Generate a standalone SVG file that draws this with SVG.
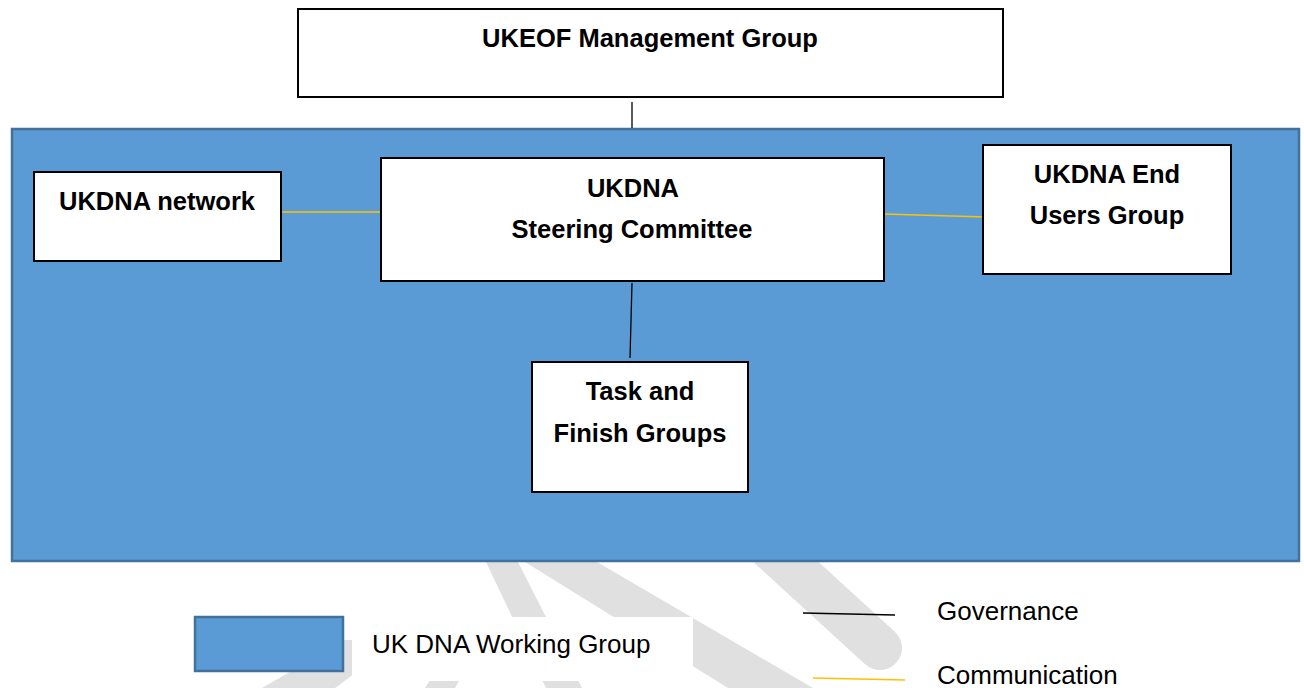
<svg xmlns="http://www.w3.org/2000/svg" width="1304" height="688" viewBox="0 0 1304 688">
  <style>
    .node { fill: #FFFFFF; stroke: #000000; stroke-width: 2; }
    .wg { fill: #5B9BD5; stroke: #41719C; stroke-width: 2.5; }
    .bold { font-family: "Liberation Sans", Arial, sans-serif; font-weight: bold; font-size: 25.5px; fill: #000000; text-anchor: middle; }
    .reg { font-family: "Liberation Sans", Arial, sans-serif; font-size: 26px; fill: #000000; }
    .gov { stroke: #000000; stroke-width: 1.3; fill: none; }
    .comm { stroke: #FFC000; stroke-width: 1.6; fill: none; }
    .wm { fill: #E0E0E0; stroke: none; }
  </style>
  <rect x="0" y="0" width="1304" height="688" fill="#FFFFFF"/>

  <g id="watermark">
    <polygon class="wm" points="345,640 400,640 335,688 262,688"/>
    <polygon class="wm" points="486,562 518,562 582,688 546,688"/>
    <polygon class="wm" points="470,617 495,617 455,688 425,688"/>
    <polygon class="wm" points="525,562 597,562 813,688 728,688"/>
    <line x1="740" y1="520" x2="880" y2="648" stroke="#E0E0E0" stroke-width="44" stroke-linecap="round"/>
  </g>

  <g id="working-group">
    <rect class="wg" x="12" y="129" width="1287" height="432"/>
  </g>

  <g id="connectors">
    <line class="gov" x1="632" y1="102" x2="632" y2="128"/>
    <line class="gov" x1="632" y1="283" x2="630" y2="358"/>
    <line class="comm" x1="280" y1="212" x2="383" y2="212"/>
    <line class="comm" x1="884" y1="214" x2="985" y2="217"/>
  </g>

  <g id="ukeof">
    <rect class="node" x="298" y="9" width="705" height="88"/>
    <text class="bold" x="650" y="47">UKEOF Management Group</text>
  </g>

  <g id="ukdna-network">
    <rect class="node" x="34" y="172" width="247" height="89"/>
    <text class="bold" x="157" y="210">UKDNA network</text>
  </g>

  <g id="steering">
    <rect class="node" x="381" y="158" width="503" height="123"/>
    <text class="bold" x="633" y="197">UKDNA</text>
    <text class="bold" x="632" y="238">Steering Committee</text>
  </g>

  <g id="end-users">
    <rect class="node" x="983" y="145" width="248" height="129"/>
    <text class="bold" x="1107" y="183">UKDNA End</text>
    <text class="bold" x="1107" y="224">Users Group</text>
  </g>

  <g id="task-finish">
    <rect class="node" x="532" y="362" width="216" height="130"/>
    <text class="bold" x="640" y="400">Task and</text>
    <text class="bold" x="640" y="442">Finish Groups</text>
  </g>

  <g id="legend">
    <rect x="352" y="617" width="341" height="64" fill="#FFFFFF"/>
    <rect class="wg" x="195" y="617" width="148" height="54"/>
    <text class="reg" x="372" y="653">UK DNA Working Group</text>
    <line class="gov" x1="803" y1="613" x2="895" y2="615"/>
    <text class="reg" x="937" y="620">Governance</text>
    <line class="comm" x1="813" y1="678" x2="905" y2="680"/>
    <text class="reg" x="937" y="684">Communication</text>
  </g>
</svg>
